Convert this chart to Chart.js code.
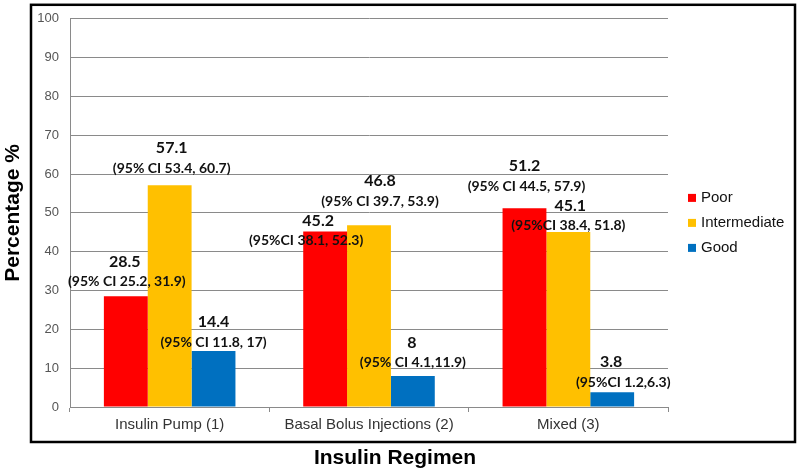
<!DOCTYPE html>
<html>
<head>
<meta charset="utf-8">
<script src="https://cdn.jsdelivr.net/npm/chart.js@4.4.1/dist/chart.umd.min.js"></script>
<style>
  html, body { margin: 0; padding: 0; background: #fff; }
  #wrap { width: 800px; height: 470px; position: relative; }
</style>
</head>
<body>
<div id="wrap"><canvas id="chart"></canvas></div>
<script>
// --- Data ---
const categories = ['Insulin Pump (1)', 'Basal Bolus Injections (2)', 'Mixed (3)'];
const seriesNames = ['Poor', 'Intermediate', 'Good'];
const poorValues = [28.5, 45.2, 51.2];
const intermediateValues = [57.1, 46.8, 45.1];
const goodValues = [14.4, 8, 3.8];
const poorCI = ['(95% CI 25.2, 31.9)', '(95%CI 38.1, 52.3)', '(95% CI 44.5, 57.9)'];
const intermediateCI = ['(95% CI 53.4, 60.7)', '(95% CI 39.7, 53.9)', '(95%CI 38.4, 51.8)'];
const goodCI = ['(95% CI 11.8, 17)', '(95% CI 4.1,11.9)', '(95%CI 1.2,6.3)'];
const yTickValues = [0, 10, 20, 30, 40, 50, 60, 70, 80, 90, 100];
const xTitle = 'Insulin Regimen';
const yTitle = 'Percentage %';

// --- Styling ---
const colors = ['#FF0000', '#FFC000', '#0070C0'];
const gridColor = '#8a8a8a';
// label nudges per series/bar: [value dx, CI dx, CI gap above bar top]
const labelShift = [
    [[-1, 1, 15], [-7, -19, -9], [0, 2, 22]],
    [[2, 2, 17], [11, 11, 24], [2, 0, 6]],
    [[0, 0, 9], [-1, 0, 13], [-1, 11, 10]]
];

const ciTexts = [poorCI, intermediateCI, goodCI];
const seriesValues = [poorValues, intermediateValues, goodValues];

// draws value + CI text above each bar
const barLabels = {
    id: 'barLabels',
    afterDatasetsDraw(chart) {
        const ctx = chart.ctx;
        ctx.save();
        ctx.fillStyle = '#111';
        ctx.textAlign = 'center';
        ctx.textBaseline = 'middle';
        chart.data.datasets.forEach((ds, i) => {
            const meta = chart.getDatasetMeta(i);
            meta.data.forEach((bar, j) => {
                const [vdx, cdx, gap] = labelShift[i][j];
                const ciY = bar.y - gap;
                ctx.font = 'bold 16px Lato';
                ctx.fillText(String(ds.data[j]), bar.x + vdx, ciY - 20);
                ctx.font = 'bold 14px Lato';
                ctx.fillText(ciTexts[i][j], bar.x + cdx, ciY);
            });
        });
        ctx.restore();
    }
};

// outer frame, x title and legend on the right
const frameAndLegend = {
    id: 'frameAndLegend',
    afterDraw(chart) {
        const ctx = chart.ctx;
        const area = chart.chartArea;
        ctx.save();
        ctx.strokeStyle = '#000';
        ctx.lineWidth = 2.5;
        const left = area.left - 39, top = area.top - 14;
        const right = chart.width - 5, bottom = area.bottom + 35;
        ctx.strokeRect(left, top, right - left, bottom - top);

        // x axis title sits below the frame, a little right of centre
        ctx.fillStyle = '#000';
        ctx.font = 'bold 21px "Liberation Sans"';
        ctx.textAlign = 'center';
        ctx.textBaseline = 'middle';
        ctx.fillText(xTitle, (area.left + area.right) / 2 + 26, bottom + 16);

        const midY = (area.top + area.bottom) / 2 + 10;
        ctx.font = '15px "Liberation Sans"';
        ctx.textAlign = 'left';
        chart.data.datasets.forEach((ds, i) => {
            const y = midY + (i - 1) * 25;
            ctx.fillStyle = ds.backgroundColor;
            ctx.fillRect(area.right + 20, y - 4, 8, 8);
            ctx.fillStyle = '#111';
            ctx.fillText(ds.label, area.right + 33, y);
        });
        ctx.restore();
    }
};

const ctx = document.getElementById('chart').getContext('2d');
new Chart(ctx, {
    type: 'bar',
    data: {
        labels: categories,
        datasets: seriesValues.map((vals, i) => ({
            label: seriesNames[i],
            data: vals,
            backgroundColor: colors[i],
            borderWidth: 0,
            categoryPercentage: 0.66,
            barPercentage: 1.0
        }))
    },
    options: {
        responsive: true,
        maintainAspectRatio: false,
        animation: false,
        layout: { padding: { top: 17, right: 132, bottom: 0, left: 0 } },
        plugins: {
            legend: { display: false },
            tooltip: { enabled: false }
        },
        scales: {
            x: {
                afterFit: (scale) => { scale.height = 63; },
                grid: {
                    display: true,
                    drawOnChartArea: false,
                    drawTicks: true,
                    tickLength: 5,
                    color: gridColor
                },
                border: { display: true, color: gridColor },
                ticks: {
                    color: '#333',
                    font: { family: 'Liberation Sans', size: 15 },
                    padding: 4,
                    maxRotation: 0
                }
            },
            y: {
                min: 0,
                max: 100,
                afterFit: (scale) => { scale.width = 70; },
                afterBuildTicks: (scale) => { scale.ticks = yTickValues.map(v => ({ value: v })); },
                grid: { color: gridColor, drawTicks: false },
                border: { display: true, color: gridColor },
                ticks: {
                    color: '#555',
                    font: { family: 'Liberation Sans', size: 13 },
                    padding: 11
                },
                title: {
                    display: true,
                    text: yTitle,
                    color: '#000',
                    font: { family: 'Liberation Sans', size: 21, weight: 'bold', lineHeight: 1.0 },
                    padding: { top: 3, bottom: 0 }
                }
            }
        }
    },
    plugins: [barLabels, frameAndLegend]
});
</script>
</body>
</html>
